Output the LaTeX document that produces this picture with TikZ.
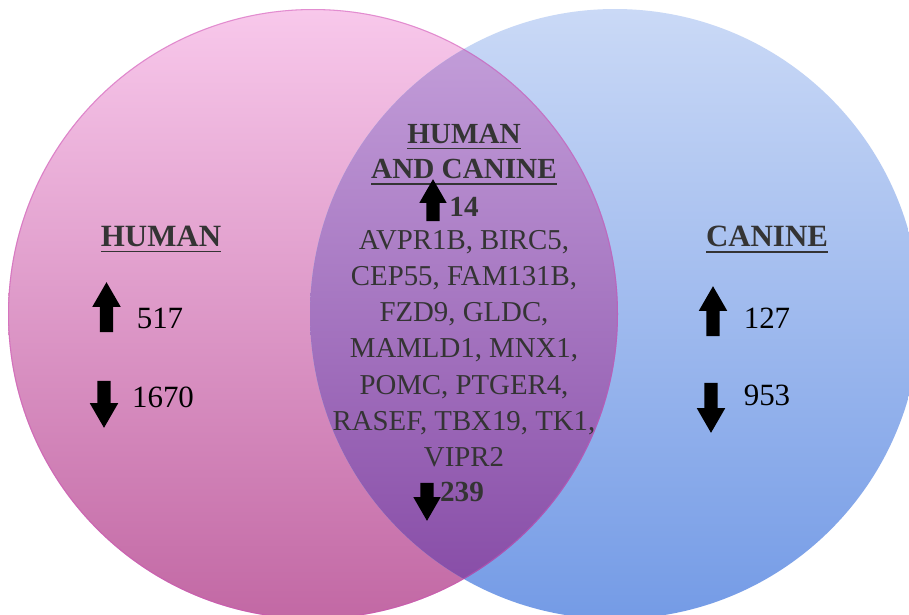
\documentclass[tikz,border=0pt]{standalone}
\usepackage{fontspec}
\setmainfont{Liberation Serif}
\usetikzlibrary{shapes.arrows, positioning}
\definecolor{humantop}{RGB}{248,200,235}
\definecolor{humanbot}{RGB}{194,104,164}
\definecolor{caninetop}{RGB}{202,217,246}
\definecolor{caninebot}{RGB}{116,155,230}
\definecolor{bothtop}{RGB}{198,162,220}
\definecolor{bothbot}{RGB}{132,72,164}
\definecolor{labeltext}{RGB}{52,52,52}

\begin{document}
\begin{tikzpicture}[
    uparr/.style={single arrow, fill=black, draw=none, shape border rotate=90, inner sep=0.06cm,
      single arrow head extend=0.075cm, single arrow tip angle=60, minimum height=#1},
    downarr/.style={uparr=#1, shape border rotate=270},
    setname/.style={font=\fontsize{8.8}{10}\selectfont\bfseries, text=labeltext},
    count/.style={font=\fontsize{8.8}{10}\selectfont, text=black},
    bothcount/.style={font=\fontsize{8.3}{10}\selectfont\bfseries, text=labeltext, inner sep=1pt},
    genes/.style={font=\fontsize{8.2}{10.3}\selectfont, text=labeltext, align=center}]
  \path[use as bounding box, clip] (0,0) rectangle (9.09,-6.14);
  \fill[white] (0,0) rectangle (9.09,-6.14);
  % the two sets
  \shade[top color=humantop, bottom color=humanbot] (3.13,-3.14) circle (3.05);
  \shade[top color=caninetop, bottom color=caninebot] (6.15,-3.14) circle (3.05);
  \begin{scope}
    \clip (3.13,-3.14) circle (3.05);
    \shade[top color=bothtop, bottom color=bothbot] (6.15,-3.14) circle (3.05);
    \draw[humanbot!80!magenta, opacity=0.5, line width=0.6pt] (3.13,-3.14) circle (3.05);
  \end{scope}
  % human only
  \node[setname] (human) at (1.61,-2.40) {\underline{HUMAN}};
  \node[uparr=0.5cm] (hup) at (1.065,-3.13) {};
  \node[count] (hupn) at (1.60,-3.18) {517};
  \node[downarr=0.47cm] (hdown) at (1.04,-3.985) {};
  \node[count] (hdownn) at (1.63,-3.97) {1670};
  % canine only
  \node[setname] (canine) at (7.67,-2.40) {\underline{CANINE}};
  \node[uparr=0.5cm] (cup) at (7.13,-3.17) {};
  \node[count] (cupn) at (7.67,-3.18) {127};
  \node[downarr=0.5cm] (cdown) at (7.11,-4.02) {};
  \node[count] (cdownn) at (7.67,-3.95) {953};
  % overlap
  \node[setname, font=\fontsize{8.3}{10.1}\selectfont\bfseries, align=center] (both) at (4.64,-1.55)
    {\underline{HUMAN}\\\underline{AND CANINE}};
  \node[uparr=0.42cm, single arrow head extend=0.07cm] (bup) at (4.33,-2.06) {};
  \node[bothcount] (bupn) at (4.64,-2.07) {14};
  \node[genes] (genelist) at (4.64,-3.485) {AVPR1B, BIRC5,\\CEP55, FAM131B,\\FZD9, GLDC,\\MAMLD1, MNX1,\\POMC, PTGER4,\\RASEF, TBX19, TK1,\\VIPR2};
  \node[downarr=0.38cm, single arrow head extend=0.07cm] (bdown) at (4.27,-4.96) {};
  \node[bothcount] (bdownn) at (4.62,-4.92) {239};
\end{tikzpicture}
\end{document}
